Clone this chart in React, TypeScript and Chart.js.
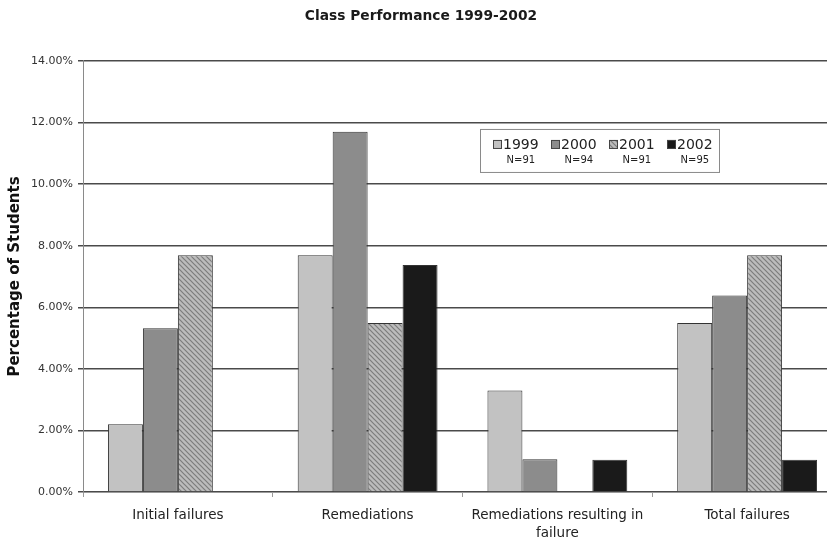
import { useEffect, useRef } from "react";
import { Chart, registerables } from "chart.js";

Chart.register(...registerables);

const categories: (string | string[])[] = [
  "Initial failures",
  "Remediations",
  ["Remediations resulting in", "failure"],
  "Total failures",
];
const years = ["1999", "2000", "2001", "2002"];
const classSizes = ["N=91", "N=94", "N=91", "N=95"];
const values1999 = [2.2, 7.69, 3.3, 5.49];
const values2000 = [5.32, 11.7, 1.06, 6.38];
const values2001 = [7.69, 5.49, null, 7.69];
const values2002 = [null, 7.37, 1.05, 1.05];
const yMin = 0;
const yMax = 14;
const yStep = 2;

const FONT = "'DejaVu Sans', Verdana, sans-serif";

function makeHatch(ctx: CanvasRenderingContext2D) {
  const c = document.createElement("canvas");
  c.width = 5;
  c.height = 5;
  const g = c.getContext("2d")!;
  g.fillStyle = "#bcbcbc";
  g.fillRect(0, 0, 5, 5);
  g.strokeStyle = "#7c7c7c";
  g.lineWidth = 1.2;
  g.beginPath();
  g.moveTo(-1, -1);
  g.lineTo(6, 6);
  g.moveTo(-1, 4);
  g.lineTo(1, 6);
  g.moveTo(4, -1);
  g.lineTo(6, 1);
  g.stroke();
  return ctx.createPattern(c, "repeat");
}

const legendPlugin = {
  id: "yearLegend",
  afterDraw(chart: any) {
    const { ctx, chartArea } = chart;
    const x0 = chartArea.left + 397;
    const y0 = chartArea.top + 68;
    const w = 239;
    const h = 43;
    ctx.save();
    ctx.fillStyle = "#ffffff";
    ctx.fillRect(x0, y0, w, h);
    ctx.strokeStyle = "#8a8a8a";
    ctx.lineWidth = 1;
    ctx.strokeRect(x0 + 0.5, y0 + 0.5, w, h);
    chart.data.datasets.forEach((ds: any, i: number) => {
      const sx = x0 + 13 + i * 58;
      const sy = y0 + 11;
      ctx.fillStyle = ds.backgroundColor;
      ctx.fillRect(sx, sy, 9, 9);
      ctx.strokeStyle = "#444";
      ctx.strokeRect(sx + 0.5, sy + 0.5, 8, 8);
      ctx.fillStyle = "#222";
      ctx.font = `14px ${FONT}`;
      ctx.textBaseline = "middle";
      ctx.textAlign = "left";
      const tx = sx + 10;
      ctx.fillText(years[i], tx, y0 + 16);
      const tw = ctx.measureText(years[i]).width;
      ctx.font = `10px ${FONT}`;
      ctx.textAlign = "center";
      ctx.fillText(classSizes[i], tx + tw / 2, y0 + 31);
    });
    ctx.restore();
  },
};

export default function App() {
  const ref = useRef<HTMLCanvasElement>(null);
  useEffect(() => {
    const canvas = ref.current!;
    const ctx = canvas.getContext("2d")!;
    const hatch = makeHatch(ctx);
    const colors = ["#c2c2c2", "#8c8c8c", hatch, "#1a1a1a"];
    const series = [values1999, values2000, values2001, values2002];
    const chart = new Chart(canvas, {
      type: "bar",
      data: {
        labels: categories,
        datasets: series.map((d, i) => ({
          label: years[i],
          data: d,
          backgroundColor: colors[i] as any,
          borderColor: "#333",
          borderWidth: 1,
          categoryPercentage: 0.737,
          barPercentage: 1,
        })),
      },
      options: {
        animation: false,
        responsive: false,
        layout: { padding: 0 },
        plugins: {
          legend: { display: false },
          tooltip: { enabled: false },
          title: {
            display: true,
            text: "Class Performance 1999-2002",
            color: "#1a1a1a",
            font: { family: FONT, size: 13.8, weight: "bold", lineHeight: 1.2 },
            padding: { top: 8, bottom: 36.4 },
          },
        },
        scales: {
          x: {
            afterFit: (s: any) => {
              s.height = 48;
            },
            grid: {
              drawOnChartArea: false,
              offset: true,
              tickLength: 5,
              color: "#9a9a9a",
            },
            border: { color: "#9a9a9a", width: 1 },
            ticks: {
              color: "#222",
              padding: 10,
              font: { family: FONT, size: 13.5, lineHeight: 1.3 },
              maxRotation: 0,
            },
          },
          y: {
            min: yMin,
            max: yMax,
            afterFit: (s: any) => {
              s.width = 83;
            },
            grid: {
              color: "#4a4a4a",
              lineWidth: 1.5,
              tickLength: 5,
            },
            border: { color: "#8a8a8a", width: 1 },
            ticks: {
              stepSize: yStep,
              color: "#333",
              padding: 5,
              font: { family: FONT, size: 11 },
              callback: (v: any) => Number(v).toFixed(2) + "%",
            },
            title: {
              display: true,
              text: "Percentage of Students",
              color: "#111",
              font: { family: FONT, size: 15, weight: "bold" },
              padding: { top: 6, bottom: 0 },
            },
          },
        },
      },
      plugins: [legendPlugin],
    });
    return () => chart.destroy();
  }, []);
  return (
    <div
      style={{
        position: "fixed",
        left: 0,
        top: 0,
        width: 827,
        height: 540,
        overflow: "hidden",
        background: "#fff",
      }}
    >
      <canvas ref={ref} width={842} height={540} style={{ display: "block" }} />
    </div>
  );
}
